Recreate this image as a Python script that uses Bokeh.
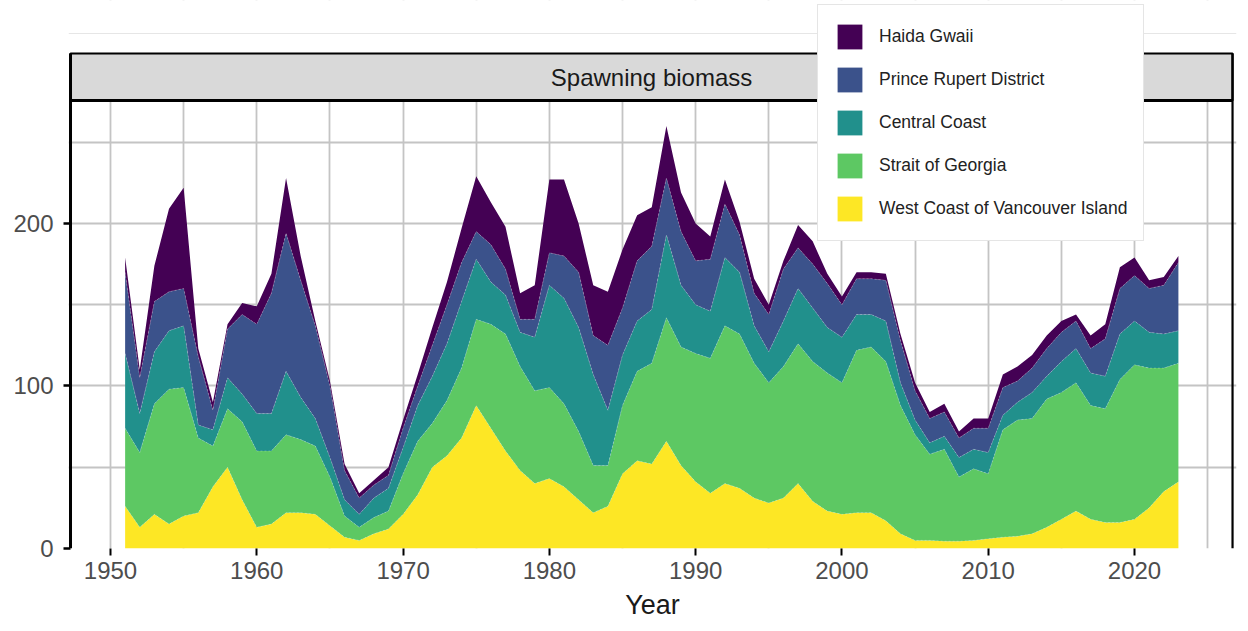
import numpy as np
from bokeh.plotting import figure
from bokeh.models import (ColumnDataSource, Legend, LegendItem, Label,
                          FixedTicker, Range1d)
from bokeh.embed import file_html
from bokeh.resources import INLINE

# Spawning biomass by stock area (thousand tonnes), 1951-2023
years = list(range(1951, 2024))

wcvi = [26, 13, 21, 15, 20, 22, 38, 50, 30, 13,
        15, 22, 22, 21, 14, 7, 5, 9, 12, 21,
        33, 50, 57, 68, 88, 74, 60, 48, 40, 43,
        38, 30, 22, 26, 46, 54, 52, 66, 51, 41,
        34, 40, 37, 31, 28, 31, 40, 29, 23, 21,
        22, 22, 17, 9, 5, 5, 4.5, 4.5, 5, 6,
        7, 7.5, 9, 13, 18, 23, 18, 16, 16, 18,
        25, 35, 41]

sog = [48, 46, 68, 83, 79, 46, 25, 36, 48, 47,
       45, 48, 45, 42, 30, 13, 8, 10, 11, 25,
       33, 27, 34, 43, 53, 64, 72, 64, 57, 56,
       51, 42, 29, 25, 42, 55, 62, 76, 73, 79,
       83, 97, 95, 83, 74, 81, 86, 86, 85, 81,
       100, 102, 98, 79, 65, 53, 56.5, 39.5, 44, 40,
       66, 71.5, 71, 79, 78, 79, 70, 70, 88, 95,
       86, 76, 73]

cc = [46, 24, 32, 36, 38, 8, 10, 19, 17, 23,
      23, 39, 26, 17, 12, 10, 8, 12, 14, 16,
      22, 29, 35, 41, 37, 26, 24, 21, 33, 63,
      65, 64, 56, 34, 31, 31, 33, 51, 38, 30,
      29, 42, 38, 23, 19, 28, 34, 33, 28, 28,
      22, 20, 25, 14, 9, 7, 8, 12, 12, 13,
      9, 11, 16, 14, 19, 21, 20, 20, 28, 27,
      22, 21, 20]

prd = [50, 22, 31, 24, 23, 42, 12, 30, 49, 55,
       74, 85, 72, 57, 44, 18, 10, 8, 8, 12,
       12, 19, 24, 24, 17, 23, 16, 8, 11, 20,
       26, 34, 24, 40, 29, 37, 39, 35, 33, 27,
       32, 33, 23, 20, 23, 32, 25, 27, 27, 20,
       22, 22, 25, 26, 18, 15, 15, 12, 13, 15,
       17, 13, 15, 17, 18, 17, 15, 23, 28, 28,
       27, 30, 42]

hg = [9, 5, 22, 51, 62, 5, 5, 3, 7, 11,
      12, 34, 15, 3, 3, 4, 3, 3, 5, 5,
      7, 11, 14, 21, 34, 26, 26, 16, 21, 45,
      47, 30, 31, 33, 36, 28, 24, 32, 24, 23,
      14, 15, 8, 9, 6, 5, 14, 14, 6, 5,
      4, 4, 4, 4, 5, 4, 5, 4, 6, 6,
      8, 9, 8, 8, 7, 4, 8, 9, 13, 11,
      5, 5, 4]

regions = ["West Coast of Vancouver Island", "Strait of Georgia",
           "Central Coast", "Prince Rupert District", "Haida Gwaii"]
colors = ["#FDE725", "#5DC863", "#21908C", "#3B528B", "#440154"]

x_tick_years = [1950, 1960, 1970, 1980, 1990, 2000, 2010, 2020]
x_grid_years = [1950, 1955, 1960, 1965, 1970, 1975, 1980, 1985, 1990,
                1995, 2000, 2005, 2010, 2015, 2020, 2025]
y_ticks = [0, 100, 200]
y_grid = [0, 50, 100, 150, 200, 250]

strip_text = "Spawning biomass"
x_label = "Year"

FONT = "Liberation Sans"

# plotting frame (data units); the panel sits inside it with a facet strip on top
X0, X1 = 1947.129, 2026.971          # frame edges
PX0, PX1 = 1947.266, 2026.70         # panel border
Y1 = 337.23                          # frame top
STRIP_BOTTOM, STRIP_TOP = 275.7, 304.6
RULE_Y = 316.9

data = {"year": years}
for name, vals in zip(regions, [wcvi, sog, cc, prd, hg]):
    data[name] = vals
source = ColumnDataSource(data)

p = figure(width=1248, height=631, output_backend="svg", toolbar_location=None,
           x_range=Range1d(X0, X1), y_range=Range1d(0, Y1),
           min_border_left=68, min_border_right=12,
           min_border_top=0, min_border_bottom=83)
p.outline_line_color = None
p.background_fill_color = "white"
p.border_fill_color = "white"

renderers = p.varea_stack(stackers=regions, x="year", color=colors, source=source)

# faint separators along each band's upper edge
cum = np.cumsum(np.array([wcvi, sog, cc, prd, hg], dtype=float), axis=0)
for row in cum[:-1]:
    p.line(years, row, line_color="white", line_alpha=0.3, line_width=0.8,
           line_dash="2 2")

# blank out the grid above the panel, then the strip and panel borders
p.quad(left=X0, right=X1, bottom=STRIP_TOP, top=Y1, fill_color="white",
       line_color=None)
p.segment(x0=X0, y0=RULE_Y, x1=X1, y1=RULE_Y, line_color="#e6e6e6", line_width=1)
p.quad(left=PX0, right=PX1, bottom=STRIP_BOTTOM, top=STRIP_TOP,
       fill_color="#d9d9d9", line_color="black", line_width=2.2)
p.segment(x0=PX0, y0=STRIP_BOTTOM, x1=PX1, y1=STRIP_BOTTOM,
          line_color="black", line_width=3)
p.segment(x0=[PX0, PX1], y0=[0, 0], x1=[PX0, PX1], y1=[STRIP_TOP, STRIP_TOP],
          line_color="black", line_width=[3, 2.2])

p.add_layout(Label(x=(PX0 + PX1) / 2, y=(STRIP_BOTTOM + STRIP_TOP) / 2,
                   text=strip_text, text_align="center", text_baseline="middle",
                   text_font=FONT, text_font_size="24px", text_color="#1a1a1a"))

# grid
p.xgrid.ticker = FixedTicker(ticks=x_grid_years)
p.ygrid.ticker = FixedTicker(ticks=y_grid)
for g in (p.xgrid, p.ygrid):
    g.grid_line_color = "#c4c4c4"
    g.grid_line_width = 1.8

# x axis
xa = p.xaxis[0]
xa.ticker = FixedTicker(ticks=x_tick_years)
xa.axis_line_color = None
xa.major_tick_line_color = "black"
xa.major_tick_line_width = 2
xa.major_tick_out = 7
xa.major_tick_in = 0
xa.minor_tick_line_color = None
xa.major_label_text_font = FONT
xa.major_label_text_font_size = "24px"
xa.major_label_text_color = "#4d4d4d"
xa.major_label_standoff = 6
xa.axis_label = x_label
xa.axis_label_text_font = FONT
xa.axis_label_text_font_size = "27px"
xa.axis_label_text_font_style = "normal"
xa.axis_label_text_color = "#1a1a1a"
xa.axis_label_standoff = 8

# y axis: ticks reach the panel border drawn inside the frame
ya = p.yaxis[0]
ya.ticker = FixedTicker(ticks=y_ticks)
ya.axis_line_color = None
ya.major_tick_line_color = "black"
ya.major_tick_line_width = 2.5
ya.major_tick_out = 5
ya.major_tick_in = 2
ya.minor_tick_line_color = None
ya.major_label_text_font = FONT
ya.major_label_text_font_size = "24px"
ya.major_label_text_color = "#4d4d4d"
ya.major_label_standoff = 10

# legend, top region first
items = [LegendItem(label=name, renderers=[r])
         for name, r in zip(regions[::-1], renderers[::-1])]
legend = Legend(items=items, location=(749, 307),
                glyph_width=31, glyph_height=31, spacing=12, padding=16,
                label_standoff=14, label_text_font=FONT,
                label_text_font_size="17.5px", label_text_color="#222222",
                border_line_color="#cccccc", border_line_width=1,
                background_fill_color="white", background_fill_alpha=1)
p.add_layout(legend, "center")

open("out.html", "w").write(file_html(p, INLINE))
